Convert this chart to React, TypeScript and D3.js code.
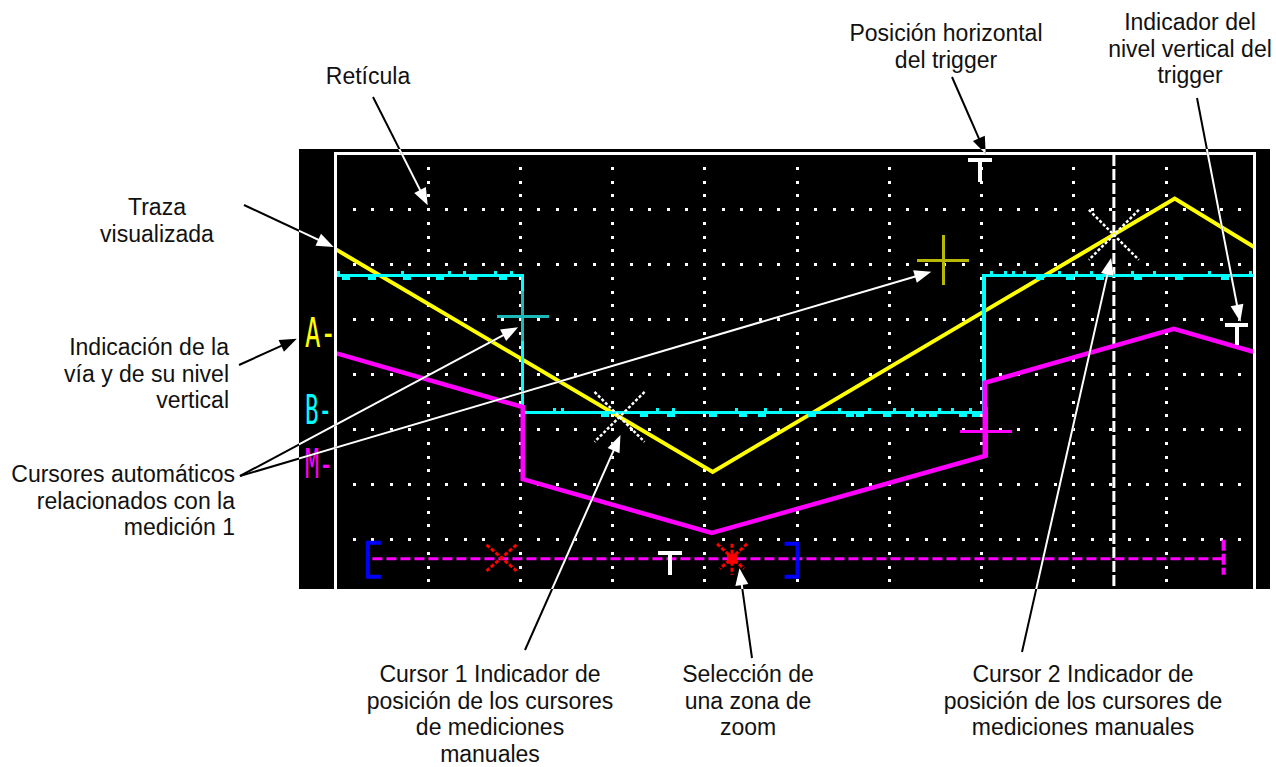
import * as d3 from 'd3';

// screen readings, in divisions (10 x 8 graticule, centre = 0 V)
const traceA: [number, number][] = [[0, 2.27], [4.09, -1.78], [9.1, 3.19], [9.96, 2.31]];
const traceB: [number, number][] = [[0, 1.79], [2.03, 1.79], [2.03, -0.7], [7.03, -0.7], [7.03, 1.79], [9.96, 1.79]];
const traceM: [number, number][] = [[0, 0.38], [2.03, -0.6], [2.03, -1.91], [4.08, -2.89], [7.04, -1.49], [7.04, -0.16], [9.09, 0.82], [9.96, 0.4]];

// noise on the B trace
const glitchUp = [0.03, 0.73, 1.24, 1.4, 1.73, 1.91, 2.38, 2.46, 3.49, 3.66, 4.35, 4.66, 4.82, 5.47, 5.79, 6.06, 6.26, 6.55, 6.69, 6.88, 7.11, 7.26, 7.35, 7.47, 7.85, 8.04, 8.2, 8.34, 8.64, 8.88, 9.48, 9.92];
const glitchDown = [0.11, 0.4, 0.78, 1.13, 1.49, 1.82, 2.92, 3.35, 3.64, 4.09, 4.42, 4.62, 5.17, 5.58, 5.69, 5.98, 6.23, 6.36, 6.48, 6.8, 6.95, 7.64, 7.96, 8.29, 8.7, 9.15, 9.64];

// channel level markers on the left
const channels = [
  { name: 'A-', level: 0.69, color: '#ffff00', len: 31 },
  { name: 'B-', level: -0.71, color: '#00ffff', len: 27 },
  { name: 'M-', level: -1.69, color: '#ff00ff', len: 28 },
];

// automatic cursors (measurement 1)
const autoCursors = [
  { x: 2.03, y: 1.05, color: '#1cb8b8', v: 3 },
  { x: 6.59, y: 2.07, color: '#b8b800', v: 3 },
  { x: 7.05, y: -1.05, color: '#ff00ff', v: 5 },
];

// manual cursors
const manualCursors = [
  { x: 3.08, y: -0.78 },
  { x: 8.44, y: 2.53 },
];
const cursor2X = 8.44;

const triggerPos = 6.99;
const triggerLevel = { x: 9.77, y: 0.89 };

// zoom selection bar
const zoomBar = { y: -3.36, from: 0.4, to: 9.63, left: 0.35, right: 5.01, trig: 3.63, mark: 1.8, star: 4.3 };

const annotations = [
  { lines: ['Retícula'], x: 368, y: 84, anchor: 'middle', arrows: [{ from: [373, 97], to: [1.0, 3.07] }] },
  { lines: ['Traza', 'visualizada'], x: 157, y: 215, anchor: 'middle', arrows: [{ from: [244, 205], to: [-0.02, 2.31] }] },
  { lines: ['Indicación de la', 'vía y de su nivel', 'vertical'], x: 229, y: 355, anchor: 'end', arrows: [{ from: [239, 365], to: [-0.42, 0.64] }] },
  { lines: ['Cursores automáticos', 'relacionados con la', 'medición 1'], x: 235, y: 482, anchor: 'end', arrows: [{ from: [240, 476], to: [1.98, 0.85] }, { from: [240, 476], to: [6.46, 1.86] }] },
  { lines: ['Posición horizontal', 'del trigger'], x: 946, y: 41, anchor: 'middle', arrows: [{ from: [952, 77], to: [7.05, 4.0] }] },
  { lines: ['Indicador del', 'nivel vertical del', 'trigger'], x: 1190, y: 30, anchor: 'middle', arrows: [{ from: [1197, 98], to: [9.81, 0.95] }] },
  { lines: ['Cursor 1 Indicador de', 'posición de los cursores', 'de mediciones', 'manuales'], x: 490, y: 682, anchor: 'middle', arrows: [{ from: [525, 650], to: [3.09, -1.11] }] },
  { lines: ['Selección de', 'una zona de', 'zoom'], x: 748, y: 682, anchor: 'middle', arrows: [{ from: [752, 658], to: [4.38, -3.53] }] },
  { lines: ['Cursor 2 Indicador de', 'posición de los cursores de', 'mediciones manuales'], x: 1083, y: 682, anchor: 'middle', arrows: [{ from: [1022, 652], to: [8.41, 2.11] }] },
];

export default function App() {
  const x = d3.scaleLinear().domain([0, 10]).range([335.5, 1257.75]);
  const y = d3.scaleLinear().domain([4, -4]).range([154, 594]);
  const line = d3.line<[number, number]>().x((d) => x(d[0])).y((d) => y(d[1]));

  const screen = { x0: 299, y0: 149, x1: 1270, y1: 589 };

  // graticule dots
  const dots: [number, number][] = [];
  d3.range(1, 10).forEach((k) => d3.range(1, 32).forEach((j) => dots.push([x(k), y(4 - j / 4)])));
  d3.range(1, 8).forEach((m) => d3.range(1, 50).forEach((i) => dots.push([x(i / 5), y(4 - m)])));

  const levelB = (xv: number) => {
    for (let i = 0; i < traceB.length - 1; i++) {
      const a = traceB[i], b = traceB[i + 1];
      if (a[1] === b[1] && xv >= a[0] && xv <= b[0]) return a[1];
    }
    return traceB[0][1];
  };

  const arrowShape = (from: number[], to: number[], color: string, key: string) => {
    const tx = x(to[0]), ty = y(to[1]);
    const dx = tx - from[0], dy = ty - from[1];
    const L = Math.hypot(dx, dy);
    const ux = dx / L, uy = dy / L;
    const hl = 17, hw = 6.5;
    const bx = tx - ux * hl, by = ty - uy * hl;
    const pts = [[tx, ty], [bx - uy * hw, by + ux * hw], [bx + uy * hw, by - ux * hw]];
    return (
      <g key={key}>
        <line x1={from[0]} y1={from[1]} x2={bx + ux * 3} y2={by + uy * 3} stroke={color} strokeWidth={2} />
        <polygon points={pts.map((p) => p.join(',')).join(' ')} fill={color} />
      </g>
    );
  };

  const tShape = (cx: number, top: number, bar: number, h: number, key: string) => (
    <g key={key} fill="#fff" shapeRendering="crispEdges">
      <rect x={cx - bar / 2} y={top} width={bar} height={4} />
      <rect x={cx - 2} y={top} width={4} height={h} />
    </g>
  );

  const bx = (v: number) => x(v);
  const barY = y(zoomBar.y);

  return (
    <svg width={1276} height={767} style={{ position: 'absolute', left: 0, top: 0, background: '#fff' }}
      fontFamily="'Liberation Sans', Arial, sans-serif">
      <defs>
        <clipPath id="screenClip">
          <rect x={screen.x0} y={screen.y0} width={screen.x1 - screen.x0} height={screen.y1 - screen.y0} />
        </clipPath>
        <clipPath id="gridClip">
          <rect x={337} y={155} width={1253 - 337} height={589 - 155} />
        </clipPath>
      </defs>

      {/* screen */}
      <rect x={screen.x0} y={screen.y0} width={screen.x1 - screen.x0} height={screen.y1 - screen.y0} fill="#000" />
      <g fill="#fff" shapeRendering="crispEdges">
        <rect x={334} y={152} width={3} height={screen.y1 - 152} />
        <rect x={334} y={152} width={1256 - 334} height={3} />
        <rect x={1253} y={152} width={3} height={screen.y1 - 152} />
      </g>

      <g clipPath="url(#gridClip)">
        <g fill="#fff" shapeRendering="crispEdges">
          {dots.map((d, i) => <rect key={i} x={Math.round(d[0]) - 1.5} y={Math.round(d[1]) - 1.5} width={3} height={3} />)}
        </g>

        {/* cursor 2 vertical line */}
        <line x1={x(cursor2X)} x2={x(cursor2X)} y1={155} y2={589} stroke="#fff" strokeWidth={3} strokeDasharray="11 3" />

        {/* traces */}
        <path d={line(traceA) ?? ''} fill="none" stroke="#ffff00" strokeWidth={4} />
        <path d={line(traceB) ?? ''} fill="none" stroke="#00ffff" strokeWidth={3.5} shapeRendering="crispEdges" />
        <g fill="#00ffff" shapeRendering="crispEdges">
          {glitchUp.map((g, i) => <rect key={'u' + i} x={x(g) - 1.5} y={y(levelB(g)) - 5} width={3} height={4} />)}
          {glitchDown.map((g, i) => <rect key={'d' + i} x={x(g) - 4} y={y(levelB(g)) + 1} width={8} height={3} />)}
        </g>
        <path d={line(traceM) ?? ''} fill="none" stroke="#ff00ff" strokeWidth={4.5} />

        {/* automatic cursors */}
        {autoCursors.map((c, i) => (
          <g key={i} stroke={c.color} shapeRendering="crispEdges">
            <line x1={x(c.x) - 26} x2={x(c.x) + 26} y1={y(c.y)} y2={y(c.y)} strokeWidth={3} />
            <line x1={x(c.x)} x2={x(c.x)} y1={y(c.y) - 25} y2={y(c.y) + 25} strokeWidth={c.v} />
          </g>
        ))}

        {/* manual cursors */}
        {manualCursors.map((c, i) => (
          <g key={i} stroke="#fff" strokeWidth={2.5} strokeDasharray="3 2">
            <line x1={x(c.x) - 25} y1={y(c.y) - 25} x2={x(c.x) + 25} y2={y(c.y) + 25} />
            <line x1={x(c.x) + 25} y1={y(c.y) - 25} x2={x(c.x) - 25} y2={y(c.y) + 25} />
          </g>
        ))}

        {/* trigger markers */}
        {tShape(x(triggerPos), 158, 24, 24, 'ttop')}
        {tShape(x(triggerLevel.x), y(triggerLevel.y) - 2, 23, 22, 'tlev')}

        {/* zoom selection bar */}
        <line x1={bx(zoomBar.from)} x2={bx(zoomBar.to)} y1={barY} y2={barY} stroke="#ff00ff" strokeWidth={3} strokeDasharray="10 4" />
        <line x1={bx(zoomBar.to)} x2={bx(zoomBar.to)} y1={barY - 19} y2={barY + 16} stroke="#ff00ff" strokeWidth={4} strokeDasharray="11 3" />
        <path d={`M${bx(zoomBar.left) + 13},${barY - 16}H${bx(zoomBar.left)}V${barY + 18}H${bx(zoomBar.left) + 13}`}
          fill="none" stroke="#0000ff" strokeWidth={4} />
        <path d={`M${bx(zoomBar.right) - 13},${barY - 15}H${bx(zoomBar.right)}V${barY + 18}H${bx(zoomBar.right) - 13}`}
          fill="none" stroke="#0000ff" strokeWidth={4} />
        {tShape(bx(zoomBar.trig), barY - 8, 24, 24, 'tbar')}
        <g stroke="#ff0000" strokeWidth={3} strokeDasharray="4 2">
          <line x1={bx(zoomBar.mark) - 15} y1={barY - 14} x2={bx(zoomBar.mark) + 15} y2={barY + 12} />
          <line x1={bx(zoomBar.mark) + 15} y1={barY - 14} x2={bx(zoomBar.mark) - 15} y2={barY + 12} />
        </g>
        <g stroke="#ff0000" strokeWidth={3}>
          <line x1={bx(zoomBar.star) - 15} y1={barY - 15} x2={bx(zoomBar.star) + 12} y2={barY + 10} strokeDasharray="4 2" />
          <line x1={bx(zoomBar.star) + 15} y1={barY - 15} x2={bx(zoomBar.star) - 12} y2={barY + 10} strokeDasharray="4 2" />
          <line x1={bx(zoomBar.star)} y1={barY - 15} x2={bx(zoomBar.star)} y2={barY + 16} strokeDasharray="4 2" />
          <rect x={bx(zoomBar.star) - 5} y={barY - 5} width={10} height={10} fill="#ff0000" stroke="none" />
        </g>
      </g>

      {/* channel markers */}
      {channels.map((c) => (
        <text key={c.name} x={305} y={y(c.level) + 11} fill={c.color} fontFamily="'DejaVu Sans Mono', monospace"
          fontSize={41} textLength={c.len} lengthAdjust="spacingAndGlyphs">{c.name}</text>
      ))}

      {/* annotation arrows: black on paper, white on the screen */}
      <g>{annotations.flatMap((a, i) => a.arrows.map((ar, j) => arrowShape(ar.from, ar.to, '#000', `b${i}-${j}`)))}</g>
      <g clipPath="url(#screenClip)">
        {annotations.flatMap((a, i) => a.arrows.map((ar, j) => arrowShape(ar.from, ar.to, '#fff', `w${i}-${j}`)))}
      </g>

      {/* annotation text */}
      {annotations.map((a, i) => (
        <text key={i} x={a.x} y={a.y} textAnchor={a.anchor} fontSize={23} fill="#111">
          {a.lines.map((l, j) => <tspan key={j} x={a.x} y={a.y + j * 26.5}>{l}</tspan>)}
        </text>
      ))}
    </svg>
  );
}
